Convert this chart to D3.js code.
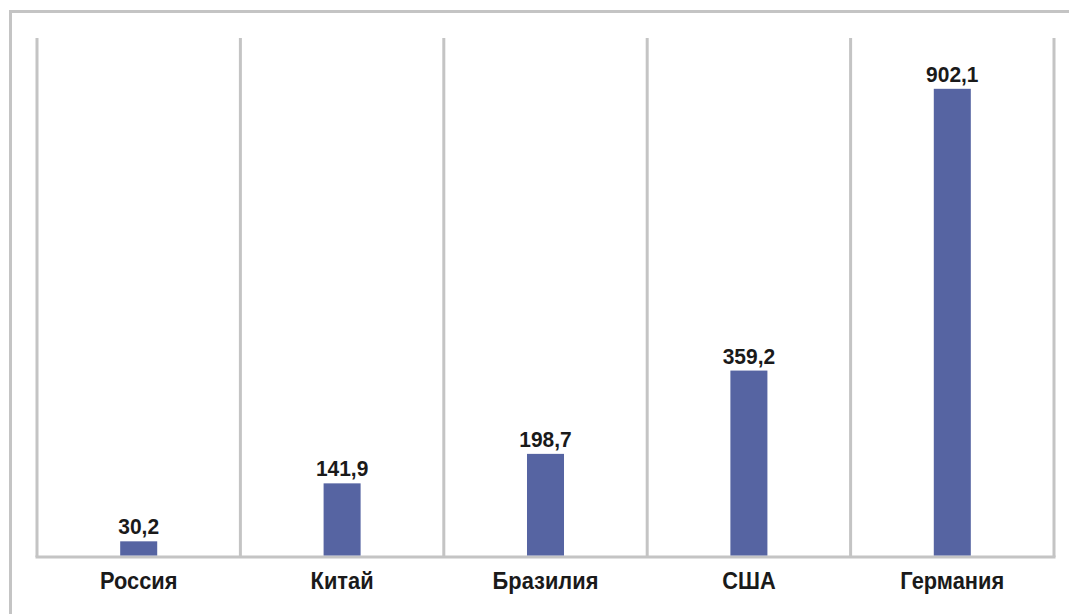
<html>
<script src="https://d3js.org/d3.v7.min.js"></script>
<style>
    body { margin: 0; background: #fff; }
</style>
<body>
</body>
<script>
    var width = 1069, height = 614;
    var plot = {left: 37, right: 1054, top: 38, bottom: 557};

    // data
    let categories = ["Россия", "Китай", "Бразилия", "США", "Германия"];
    let values = [30.2, 141.9, 198.7, 359.2, 902.1];
    let valueLabels = ["30,2", "141,9", "198,7", "359,2", "902,1"];

    let svg = d3.select("body").append("svg")
        .attr("width", width)
        .attr("height", height);

    // outer frame (only top and left edges are inside the picture)
    svg.append("path")
        .attr("d", "M10.5," + height + "V11.5H" + width)
        .attr("fill", "none")
        .attr("stroke", "#c4c4c4")
        .attr("stroke-width", 3);

    let xCell = d3.scaleBand()
        .domain(categories)
        .range([plot.left, plot.right])
        .padding(0);

    let xBar = d3.scaleBand()
        .domain(categories)
        .range([plot.left, plot.right])
        .paddingInner(0.818)
        .paddingOuter(0.409);

    let y = d3.scaleLinear()
        .domain([0, 1000])
        .range([plot.bottom, plot.top]);

    // vertical separators between categories
    let bounds = categories.map(c => xCell(c)).concat([plot.right]);
    bounds.forEach(b =>
        svg.append("line")
            .attr("x1", b)
            .attr("x2", b)
            .attr("y1", plot.top)
            .attr("y2", plot.bottom)
            .attr("stroke", "#c4c4c4")
            .attr("stroke-width", 3)
    );

    // baseline
    svg.append("line")
        .attr("x1", plot.left - 1.5)
        .attr("x2", plot.right + 1.5)
        .attr("y1", plot.bottom)
        .attr("y2", plot.bottom)
        .attr("stroke", "#c4c4c4")
        .attr("stroke-width", 3);

    // bars
    svg.selectAll(".bar")
        .data(values)
        .enter().append("rect")
        .attr("class", "bar")
        .attr("x", (d, i) => xBar(categories[i]))
        .attr("width", xBar.bandwidth())
        .attr("y", d => y(d))
        .attr("height", d => y(0) - y(d) - 1.5)
        .attr("fill", "#5664a2");

    let cx = c => xCell(c) + xCell.bandwidth() / 2;

    // value labels (slightly condensed bold)
    svg.selectAll(".val")
        .data(values)
        .enter().append("text")
        .attr("class", "val")
        .attr("transform", (d, i) => "translate(" + cx(categories[i]) + "," + (y(d) - 7) + ") scale(0.94,1)")
        .attr("text-anchor", "middle")
        .attr("font-family", "Liberation Sans, Arial, sans-serif")
        .attr("font-weight", "bold")
        .attr("font-size", 22.3)
        .attr("fill", "#1a1a1a")
        .text((d, i) => valueLabels[i]);

    // category labels
    svg.selectAll(".cat")
        .data(categories)
        .enter().append("text")
        .attr("class", "cat")
        .attr("transform", d => "translate(" + cx(d) + ",589) scale(0.95,1)")
        .attr("text-anchor", "middle")
        .attr("font-family", "Liberation Sans, Arial, sans-serif")
        .attr("font-weight", "bold")
        .attr("font-size", 23)
        .attr("fill", "#1a1a1a")
        .text(d => d);
</script>
</html>
